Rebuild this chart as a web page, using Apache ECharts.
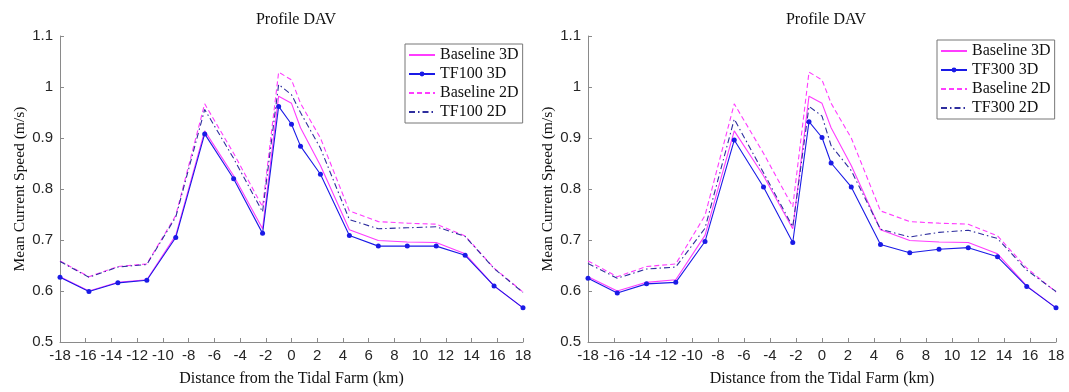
<!DOCTYPE html>
<html><head><meta charset="utf-8">
<script src="https://cdn.jsdelivr.net/npm/echarts@6/dist/echarts.min.js"></script>
<style>html,body{margin:0;padding:0;background:#fff}#c{width:1069px;height:392px}</style>
</head><body><div id="c"></div>
<script>
const distanceKm = [-18, -15.75, -13.5, -11.25, -9, -6.75, -4.5, -2.25, -1, 0, 0.7, 2.25, 4.5, 6.75, 9, 11.25, 13.5, 15.75, 18];
const xTicks = [-18,-16,-14,-12,-10,-8,-6,-4,-2,0,2,4,6,8,10,12,14,16,18];
const baseline3D = [0.628, 0.600, 0.617, 0.622, 0.709, 0.914, 0.826, 0.722, 0.982, 0.968, 0.920, 0.846, 0.720, 0.699, 0.696, 0.695, 0.673, 0.610, 0.567];
const baseline2D = [0.659, 0.628, 0.648, 0.653, 0.748, 0.967, 0.870, 0.765, 1.029, 1.014, 0.968, 0.900, 0.757, 0.736, 0.733, 0.731, 0.708, 0.645, 0.598];
const tf100_3D = [0.627, 0.599, 0.616, 0.621, 0.705, 0.908, 0.820, 0.713, 0.962, 0.927, 0.884, 0.829, 0.709, 0.688, 0.688, 0.688, 0.670, 0.610, 0.567];
const tf100_2D = [0.658, 0.627, 0.647, 0.652, 0.745, 0.956, 0.860, 0.755, 1.005, 0.985, 0.950, 0.880, 0.740, 0.722, 0.724, 0.726, 0.707, 0.644, 0.597];
const tf300_3D = [0.625, 0.596, 0.614, 0.617, 0.697, 0.896, 0.804, 0.695, 0.932, 0.901, 0.851, 0.804, 0.691, 0.675, 0.682, 0.685, 0.667, 0.609, 0.567];
const tf300_2D = [0.654, 0.625, 0.643, 0.647, 0.723, 0.937, 0.832, 0.726, 0.962, 0.943, 0.885, 0.836, 0.721, 0.706, 0.715, 0.719, 0.703, 0.641, 0.599];
const titleText = 'Profile DAV';
const xName = 'Distance from the Tidal Farm (km)';
const yName = 'Mean Current Speed (m/s)';

const MAG = '#ff3cff', BLUE = '#1a1ae6', NAVY = '#2e2e9e';
const serif = '"Liberation Serif", "Times New Roman", serif';
const sans = '"Liberation Sans", Arial, sans-serif';
const pairs = arr => arr.map((v, i) => [distanceKm[i], v]);

function mkX(idx) {
  return {
    type: 'value', gridIndex: idx, min: -18, max: 18, interval: 2,
    name: xName, nameLocation: 'middle', nameGap: 29,
    nameTextStyle: { fontFamily: serif, fontSize: 16, color: '#111' },
    axisLine: { show: true, onZero: false, lineStyle: { color: '#8a8a8a', width: 1 } },
    axisTick: { show: true, inside: true, length: 4, lineStyle: { color: '#8a8a8a' } },
    axisLabel: { fontFamily: sans, fontSize: 15, color: '#262626', margin: 6,
      formatter: v => xTicks.includes(v) ? String(v) : '' },
    splitLine: { show: false }
  };
}
function mkY(idx) {
  return {
    type: 'value', gridIndex: idx, min: 0.5, max: 1.1, interval: 0.1,
    name: yName, nameLocation: 'middle', nameGap: 32,
    nameTextStyle: { fontFamily: serif, fontSize: 15.5, color: '#111' },
    axisLine: { show: true, onZero: false, lineStyle: { color: '#8a8a8a', width: 1 } },
    axisTick: { show: true, inside: true, length: 4, lineStyle: { color: '#8a8a8a' } },
    axisLabel: { fontFamily: sans, fontSize: 15, color: '#262626', margin: 7,
      formatter: v => String(Math.round(v * 10) / 10) },
    splitLine: { show: false }
  };
}
function mkSeries(name, data, idx, color, type, marker) {
  return {
    name, type: 'line', xAxisIndex: idx, yAxisIndex: idx, data: pairs(data),
    symbol: 'circle', symbolSize: 5, showSymbol: !!marker,
    lineStyle: { color, width: 1.1, type },
    itemStyle: { color }, animation: false, z: marker ? 5 : 3
  };
}
function mkLegend(left, top, tf) {
  const hide = { opacity: 0 };
  return {
    orient: 'vertical', left, top, itemGap: 3, itemWidth: 26, itemHeight: 6,
    padding: [3, 4, 3, 3], borderColor: '#777', borderWidth: 1, backgroundColor: '#fff',
    textStyle: { fontFamily: serif, fontSize: 16, color: '#111' },
    data: [
      { name: 'Baseline 3D', itemStyle: hide },
      { name: tf + ' 3D' },
      { name: 'Baseline 2D', itemStyle: hide },
      { name: tf + ' 2D', itemStyle: hide }
    ]
  };
}

const chart = echarts.init(document.getElementById('c'), null, { renderer: 'canvas' });
chart.setOption({
  backgroundColor: '#fff',
  animation: false,
  title: [
    { text: titleText, left: 291, top: 7, textAlign: 'center', textStyle: { fontFamily: serif, fontSize: 16, fontWeight: 'normal', color: '#111' } },
    { text: titleText, left: 821, top: 7, textAlign: 'center', textStyle: { fontFamily: serif, fontSize: 16, fontWeight: 'normal', color: '#111' } }
  ],
  grid: [
    { left: 60, top: 36, width: 463, height: 307 },
    { left: 588, top: 36, width: 468, height: 307 }
  ],
  xAxis: [mkX(0), mkX(1)],
  yAxis: [mkY(0), mkY(1)],
  legend: [mkLegend(405, 44, 'TF100'), mkLegend(937, 40, 'TF300')],
  series: [
    mkSeries('Baseline 3D', baseline3D, 0, MAG, 'solid', false),
    mkSeries('TF100 3D', tf100_3D, 0, BLUE, 'solid', true),
    mkSeries('Baseline 2D', baseline2D, 0, MAG, [5, 3], false),
    mkSeries('TF100 2D', tf100_2D, 0, NAVY, [6, 3, 1.5, 3], false),
    mkSeries('Baseline 3D', baseline3D, 1, MAG, 'solid', false),
    mkSeries('TF300 3D', tf300_3D, 1, BLUE, 'solid', true),
    mkSeries('Baseline 2D', baseline2D, 1, MAG, [5, 3], false),
    mkSeries('TF300 2D', tf300_2D, 1, NAVY, [6, 3, 1.5, 3], false)
  ]
});
</script></body></html>
